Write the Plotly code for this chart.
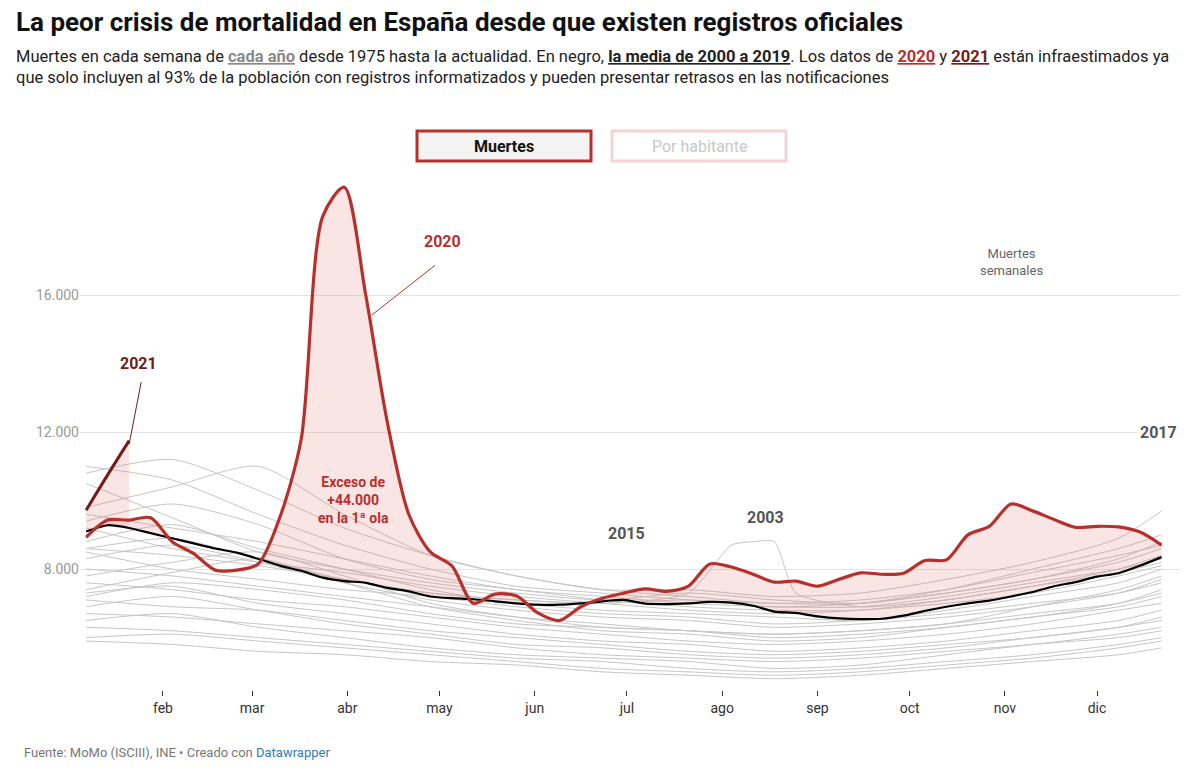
import datetime

import numpy as np
import plotly.graph_objects as go

START = datetime.date(2020, 1, 7)
N_WEEKS = 51
WEEK_DATES = [START + datetime.timedelta(weeks=k) for k in range(N_WEEKS)]

# knots (week index) used for the grey historical years
GREY_WEEKS = [0, 4, 8, 12, 16, 20, 24, 28, 32, 36, 40, 44, 48, 50]
GREY_VALUES = [
    [11000, 10600, 9600, 8700, 8000, 7500, 7300, 7100, 7000, 7000, 7400, 8000, 8600, 9000],
    [10800, 11200, 10300, 9200, 8400, 7800, 7400, 7400, 7200, 7300, 7700, 8200, 8900, 9700],
    [10500, 9500, 8500, 8000, 7600, 7300, 7100, 7300, 7100, 7000, 7300, 7700, 8300, 8800],
    [9800, 10400, 11000, 9600, 8400, 7800, 7400, 7200, 7000, 7100, 7400, 7900, 8400, 8700],
    [9600, 9200, 8800, 8300, 7800, 7400, 7200, 7000, 6900, 6900, 7200, 7600, 8000, 8300],
    [9200, 8600, 8200, 7900, 7500, 7200, 7000, 6800, 6700, 6800, 7000, 7300, 7800, 8100],
    [8800, 9300, 8600, 8000, 7400, 7000, 6800, 6700, 6600, 6500, 6800, 7200, 7600, 8000],
    [8500, 8000, 7700, 7400, 7200, 6900, 6700, 6600, 6400, 6500, 6700, 7000, 7300, 7600],
    [8300, 8700, 8200, 7600, 7100, 6800, 6600, 6500, 6300, 6400, 6600, 6900, 7300, 7700],
    [8000, 7800, 7500, 7200, 6900, 6600, 6400, 6200, 6100, 6200, 6400, 6700, 7000, 7300],
    [7800, 8200, 8500, 7800, 7000, 6600, 6300, 6200, 6000, 6100, 6300, 6600, 6900, 7200],
    [7600, 7400, 7100, 6900, 6600, 6300, 6100, 5900, 5800, 5900, 6100, 6400, 6800, 7000],
    [7300, 7500, 7000, 6700, 6400, 6100, 5900, 5800, 5600, 5700, 5900, 6200, 6500, 6800],
    [7100, 6900, 6800, 6500, 6200, 6000, 5800, 5600, 5500, 5600, 5800, 6000, 6300, 6600],
    [6900, 7200, 6800, 6400, 6100, 5800, 5700, 5500, 5400, 5500, 5700, 6000, 6300, 6500],
    [6700, 6600, 6400, 6200, 6000, 5700, 5500, 5400, 5300, 5400, 5600, 5800, 6100, 6300],
    [6500, 6700, 6300, 6000, 5700, 5500, 5400, 5300, 5100, 5200, 5500, 5800, 6000, 6200],
    [6300, 6200, 6000, 5800, 5600, 5400, 5300, 5100, 5000, 5100, 5300, 5500, 5800, 6000],
    [6000, 6100, 5900, 5700, 5500, 5300, 5100, 5000, 4900, 5000, 5200, 5400, 5700, 5900],
    [5900, 5800, 5600, 5500, 5300, 5200, 5000, 4900, 4800, 4900, 5100, 5300, 5500, 5700],
    [7200, 7600, 7400, 7100, 6700, 6400, 6300, 6200, 6100, 6200, 6400, 6900, 7400, 7800],
    [8600, 8400, 8100, 7700, 7300, 7100, 7000, 7100, 6900, 7000, 7300, 7700, 8200, 8600],
    [7400, 7900, 8300, 7600, 6900, 6500, 6200, 6100, 5900, 6000, 6300, 6600, 7000, 7400],
    [9400, 9900, 9300, 8300, 7700, 7400, 7100, 6900, 6800, 6800, 7100, 7500, 7900, 8200],
]
Y2003_WEEKS = [0, 4, 8, 12, 16, 20, 24, 28, 30, 31, 32, 33, 36, 40, 44, 48, 50]
Y2003_VALUES = [8600, 8900, 8300, 7700, 7300, 7100, 7000, 7300, 8700, 8800, 8800, 7300,
                6900, 7100, 7500, 8000, 8400]

MEAN_2000_2019 = [9100, 9280, 9200, 9050, 8900, 8750, 8600, 8480, 8300, 8100, 7950, 7750,
                  7650, 7600, 7450, 7350, 7200, 7150, 7120, 7060, 7000, 6960, 6960, 7000,
                  7060, 7100, 6990, 6980, 7000, 7040, 7020, 6930, 6760, 6720, 6620, 6560,
                  6540, 6550, 6640, 6780, 6900, 7000, 7080, 7200, 7330, 7500, 7620, 7780,
                  7880, 8100, 8350]
DEATHS_2020 = [8930, 9430, 9430, 9500, 8800, 8450, 7970, 7970, 8150, 9500, 11800, 18300,
               19150, 16000, 12300, 9600, 8500, 8100, 7000, 7270, 7220, 6720, 6500, 6900,
               7150, 7300, 7420, 7350, 7500, 8150, 8060, 7850, 7620, 7650, 7500, 7700,
               7890, 7850, 7880, 8250, 8270, 9000, 9250, 9900, 9700, 9450, 9220, 9250,
               9230, 9080, 8700]
DEATHS_2021 = [9720, 10750, 11750]

MONTH_LABELS = ["feb", "mar", "abr", "may", "jun", "jul", "ago", "sep", "oct", "nov", "dic"]
MONTH_TICKS = [datetime.date(2020, m, 1) for m in range(2, 13)]

RED = "#b8302b"
DARK_RED = "#731b16"
GREY = "#c6c6c6"
FILL = "rgba(214,96,90,0.16)"

fig = go.Figure()
for vals in GREY_VALUES:
    fig.add_trace(go.Scatter(x=[WEEK_DATES[k] for k in GREY_WEEKS], y=vals, mode="lines",
                             line=dict(color=GREY, width=1, shape="spline", smoothing=0.7),
                             hoverinfo="skip", showlegend=False))
fig.add_trace(go.Scatter(x=[WEEK_DATES[k] for k in Y2003_WEEKS], y=Y2003_VALUES, mode="lines",
                         line=dict(color=GREY, width=1, shape="spline", smoothing=0.6),
                         hoverinfo="skip", showlegend=False))

# excess shading (2020 above the mean)
mean = np.array(MEAN_2000_2019)
fig.add_trace(go.Scatter(x=WEEK_DATES, y=mean, mode="lines", line=dict(width=0, shape="spline"),
                         hoverinfo="skip", showlegend=False))
fig.add_trace(go.Scatter(x=WEEK_DATES, y=np.maximum(DEATHS_2020, mean), mode="lines",
                         line=dict(width=0, shape="spline"), fill="tonexty", fillcolor=FILL,
                         hoverinfo="skip", showlegend=False))
fig.add_trace(go.Scatter(x=WEEK_DATES[:3], y=mean[:3], mode="lines", line=dict(width=0),
                         hoverinfo="skip", showlegend=False))
fig.add_trace(go.Scatter(x=WEEK_DATES[:3], y=DEATHS_2021, mode="lines", line=dict(width=0),
                         fill="tonexty", fillcolor=FILL, hoverinfo="skip", showlegend=False))

fig.add_trace(go.Scatter(x=WEEK_DATES, y=MEAN_2000_2019, mode="lines",
                         line=dict(color="black", width=2.2, shape="spline", smoothing=0.6),
                         showlegend=False))
fig.add_trace(go.Scatter(x=WEEK_DATES, y=DEATHS_2020, mode="lines",
                         line=dict(color=RED, width=3.2, shape="spline", smoothing=0.8),
                         showlegend=False))
fig.add_trace(go.Scatter(x=WEEK_DATES[:3], y=DEATHS_2021, mode="lines",
                         line=dict(color=DARK_RED, width=3, shape="spline"), showlegend=False))

FONT = "Roboto"


# page pixel position -> paper coords of the plot area (page has an 8px body margin)
def px_x(p):
    return (p - 80) / 1100


def px_y(p):
    return (690 - p) / 510


anns = [
    dict(x=px_x(14), y=px_y(5), text="<b>La peor crisis de mortalidad en España desde que existen registros oficiales</b>",
         font=dict(size=26, color="#111")),
    dict(x=px_x(14), y=px_y(45), font=dict(size=16.5, color="#222"),
         text="Muertes en cada semana de <b><span style='color:#888;text-decoration:underline'>cada año</span></b> "
              "desde 1975 hasta la actualidad. En negro, <b><span style='text-decoration:underline'>la media de 2000 a 2019</span></b>. "
              "Los datos de <b><span style='color:#b8302b;text-decoration:underline'>2020</span></b> y "
              "<b><span style='color:#731b16;text-decoration:underline'>2021</span></b> están infraestimados ya<br>"
              "que solo incluyen al 93% de la población con registros informatizados y pueden presentar retrasos en las notificaciones"),
    dict(x=px_x(22), y=px_y(743), font=dict(size=13, color="#777"),
         text="Fuente: MoMo (ISCIII), INE • Creado con <span style='color:#2f7bbf'>Datawrapper</span>"),
]
for a in anns:
    fig.add_annotation(xref="paper", yref="paper", xanchor="left", yanchor="top", showarrow=False,
                       align="left", **a)

fig.add_shape(type="rect", xref="paper", yref="paper", x0=px_x(417), x1=px_x(591), y0=px_y(161), y1=px_y(131),
              line=dict(color=RED, width=3), fillcolor="#f4f4f4")
fig.add_shape(type="rect", xref="paper", yref="paper", x0=px_x(612), x1=px_x(786), y0=px_y(161), y1=px_y(131),
              line=dict(color="#f3d4d3", width=3), fillcolor="white")
fig.add_annotation(xref="paper", yref="paper", x=px_x(504), y=px_y(146), text="<b>Muertes</b>",
                   showarrow=False, yanchor="middle", font=dict(size=16, color="#111"))
fig.add_annotation(xref="paper", yref="paper", x=px_x(699), y=px_y(146), text="Por habitante",
                   showarrow=False, yanchor="middle", font=dict(size=16, color="#c8c8c8"))

# labels in data coordinates
d = datetime.date
fig.add_annotation(x=d(2020, 1, 24), y=13990, text="<b>2021</b>", showarrow=False,
                   font=dict(size=16, color=DARK_RED))
fig.add_annotation(x=d(2020, 1, 21), y=11650, ax=d(2020, 1, 25), ay=13500, axref="x", ayref="y",
                   text="", showarrow=True, arrowhead=0, arrowwidth=1, arrowcolor=DARK_RED)
fig.add_annotation(x=d(2020, 5, 2), y=17550, text="<b>2020</b>", showarrow=False,
                   font=dict(size=16, color=RED))
fig.add_annotation(x=d(2020, 4, 9), y=15420, ax=d(2020, 4, 30), ay=16900, axref="x", ayref="y",
                   text="", showarrow=True, arrowhead=0, arrowwidth=1, arrowcolor=RED)
fig.add_annotation(x=d(2020, 4, 3), y=10020, text="<b>Exceso de<br>+44.000<br>en la 1ª ola</b>",
                   showarrow=False, font=dict(size=14, color=RED))
fig.add_annotation(x=d(2020, 7, 1), y=9050, text="<b>2015</b>", showarrow=False,
                   font=dict(size=16, color="#555"))
fig.add_annotation(x=d(2020, 8, 15), y=9520, text="<b>2003</b>", showarrow=False,
                   font=dict(size=16, color="#555"))
fig.add_annotation(x=d(2020, 12, 21), y=12000, text="<b>2017</b>", showarrow=False,
                   font=dict(size=16, color="#555"), bgcolor="white")
fig.add_annotation(x=d(2020, 11, 3), y=16970, text="Muertes<br>semanales", showarrow=False,
                   font=dict(size=13, color="#666"))

fig.update_layout(
    width=1200, height=770, margin=dict(l=72, r=28, t=172, b=88, autoexpand=False),
    plot_bgcolor="white", paper_bgcolor="white", font=dict(family=FONT),
    xaxis=dict(range=[d(2020, 1, 5), d(2020, 12, 28)], tickvals=MONTH_TICKS, ticktext=MONTH_LABELS,
               showgrid=False, ticks="outside", ticklen=5, tickcolor="#333", showline=False,
               zeroline=False, tickfont=dict(size=14, color="#333"), automargin=False),
    yaxis=dict(range=[4470, 19360], tickvals=[8000, 12000, 16000], ticktext=["8.000", "12.000", "16.000"],
               gridcolor="#e4e4e4", zeroline=False, showline=False, automargin=False,
               tickfont=dict(size=14, color="#999")),
)
fig.write_html("out.html")
